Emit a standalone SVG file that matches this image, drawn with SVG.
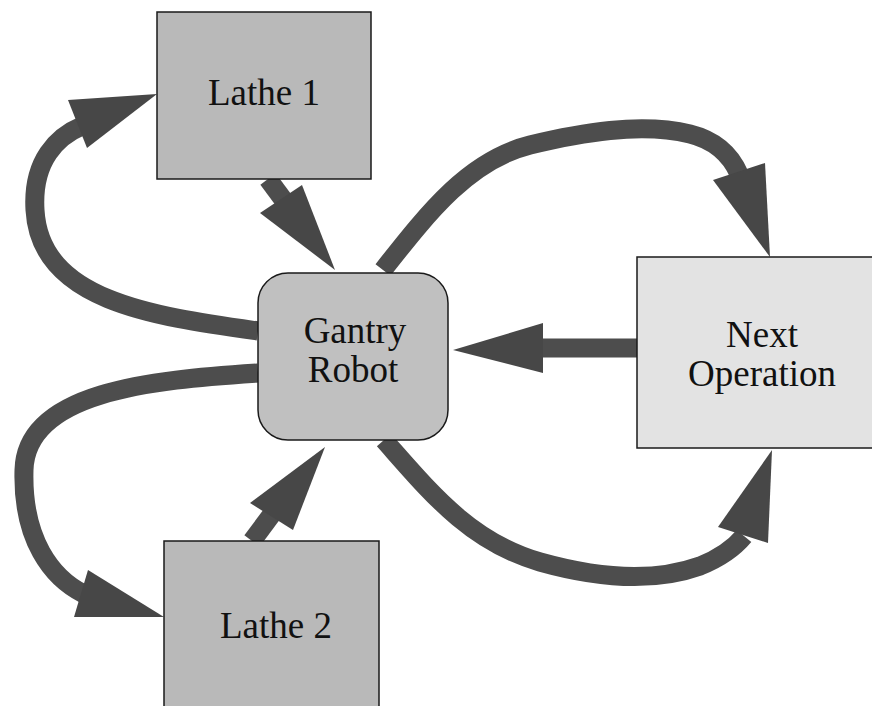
<svg xmlns="http://www.w3.org/2000/svg" width="872" height="706" viewBox="0 0 872 706">
<style>
.shaft{fill:none;stroke:#4d4d4d;stroke-width:19;stroke-linecap:butt}
.head{fill:#474747}
.box{stroke:#1a1a1a;stroke-width:1.5}
.lbl{font-family:"Liberation Serif","Times New Roman",serif;font-size:37px;fill:#111;text-anchor:middle}
</style>
<rect width="872" height="706" fill="#ffffff"/>
<g id="connectors">
  <!-- Lathe 1 -> Gantry -->
  <path class="shaft" d="M268,179 L305,229"/>
  <polygon class="head" points="260,213 302,185 335,270"/>
  <!-- Gantry -> Lathe 1 (curve) -->
  <path class="shaft" d="M258,331 C150,316 40,300 35,210 C32,160 58,136 82,126"/>
  <polygon class="head" points="68,100 87,148 157,94"/>
  <!-- Gantry -> Lathe 2 (curve) -->
  <path class="shaft" d="M258,373 C150,380 26,392 24,470 C22,540 52,578 84,594"/>
  <polygon class="head" points="74,617 88,570 164,617"/>
  <!-- Lathe 2 -> Gantry -->
  <path class="shaft" d="M252,541 L275,510"/>
  <polygon class="head" points="250,503 293,530 325,447"/>
  <!-- Next Operation -> Gantry -->
  <path class="shaft" d="M637,348 L540,348"/>
  <polygon class="head" points="543,323 543,373 453,350"/>
  <!-- Gantry -> Next Operation (top curve) -->
  <path class="shaft" d="M383,270 C430,210 470,160 530,145 C580,133 640,122 690,134 C718,141 732,158 739,174"/>
  <polygon class="head" points="713,180 765,163 770,257"/>
  <!-- Gantry -> Next Operation (bottom curve) -->
  <path class="shaft" d="M384,440 C430,492 470,542 540,562 C590,576 650,584 700,566 C720,558 734,548 744,536"/>
  <polygon class="head" points="718,527 768,543 772,450"/>
</g>
<g id="lathe1">
  <rect class="box" x="157" y="12" width="214" height="167" fill="#b9b9b9"/>
  <text class="lbl" x="264" y="105">Lathe 1</text>
</g>
<g id="gantry">
  <rect class="box" x="258" y="273" width="190" height="167" rx="30" ry="30" fill="#c0c0c0"/>
  <text class="lbl" x="355" y="343">Gantry</text>
  <text class="lbl" x="353" y="382">Robot</text>
</g>
<g id="nextop">
  <rect class="box" x="637" y="257" width="250" height="191" fill="#e3e3e3"/>
  <text class="lbl" x="762" y="347">Next</text>
  <text class="lbl" x="762" y="386">Operation</text>
</g>
<g id="lathe2">
  <rect class="box" x="164" y="541" width="215" height="180" fill="#b9b9b9"/>
  <text class="lbl" x="276" y="638">Lathe 2</text>
</g>
</svg>
